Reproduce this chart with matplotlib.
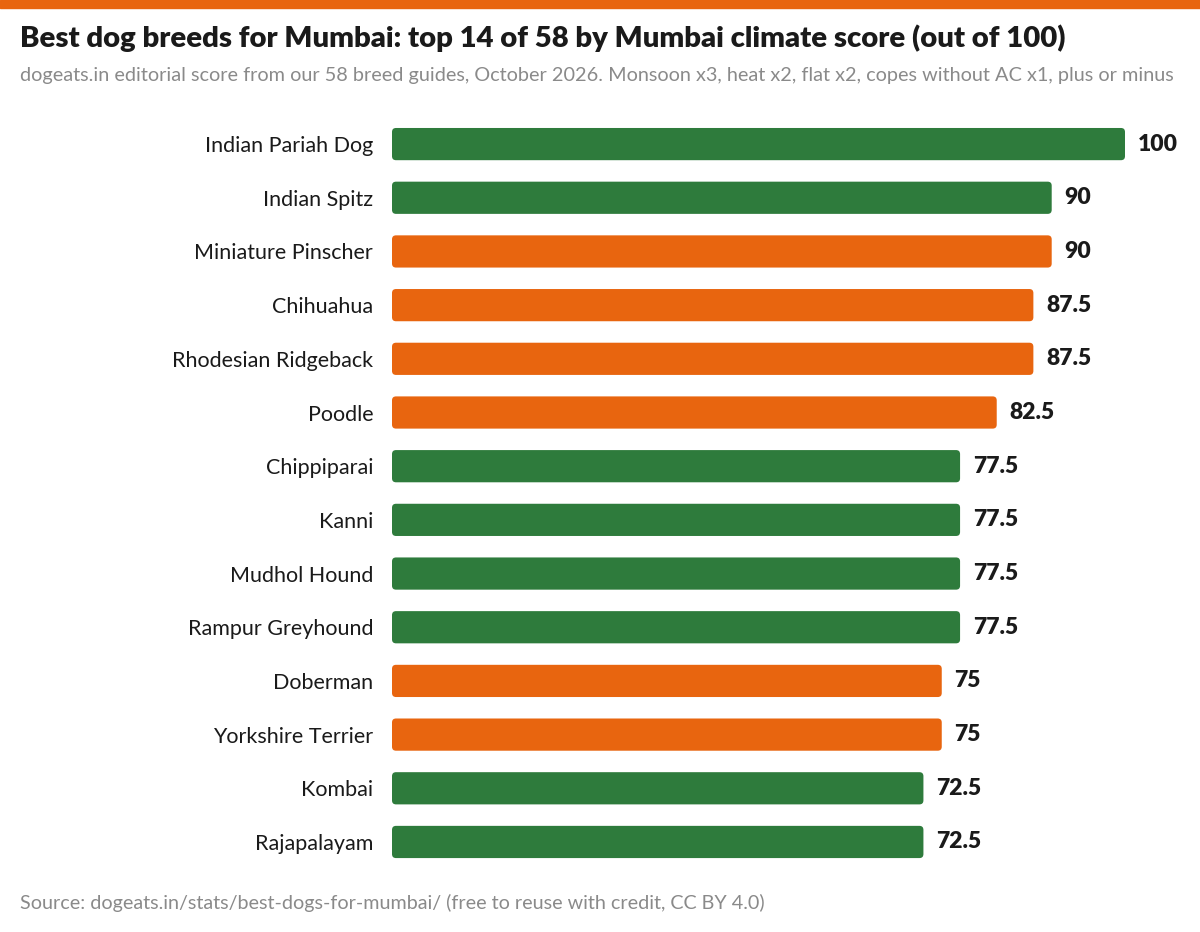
import matplotlib
matplotlib.use('Agg')
import matplotlib.pyplot as plt
from matplotlib.patches import FancyBboxPatch, Rectangle

# Data
breeds = ['Indian Pariah Dog', 'Indian Spitz', 'Miniature Pinscher', 'Chihuahua',
          'Rhodesian Ridgeback', 'Poodle', 'Chippiparai', 'Kanni', 'Mudhol Hound',
          'Rampur Greyhound', 'Doberman', 'Yorkshire Terrier', 'Kombai', 'Rajapalayam']
scores = [100, 90, 90, 87.5, 87.5, 82.5, 77.5, 77.5, 77.5, 77.5, 75, 75, 72.5, 72.5]
indian = [True, True, False, False, False, False, True, True, True, True,
          False, False, True, True]
value_labels = ['100', '90', '90', '87.5', '87.5', '82.5', '77.5', '77.5', '77.5',
                '77.5', '75', '75', '72.5', '72.5']

GREEN = '#2e7b3c'
ORANGE = '#e8650f'
DARK = '#1a1a1a'
GREY = '#8a8a8a'

plt.rcParams['font.family'] = ['Lato', 'DejaVu Sans']

fig = plt.figure(figsize=(12, 9.32), dpi=100)
fig.patches.append(Rectangle((0, 1 - 8 / 932), 1, 8 / 932, transform=fig.transFigure,
                             color=ORANGE, zorder=0))

ax = fig.add_axes([392 / 1200, 0.0678, 733 / 1200, 0.8064])
n = len(breeds)
bar_h = 0.6
# rounding: ~4 px in each direction
rx = 4 / 7.33
ry = 4 / 53.7
for i, (s, ind) in enumerate(zip(scores, indian)):
    p = FancyBboxPatch((0, i - bar_h / 2), s, bar_h,
                       boxstyle='round,pad=0,rounding_size=%f' % rx,
                       mutation_aspect=ry / rx,
                       facecolor=GREEN if ind else ORANGE, edgecolor='none')
    ax.add_patch(p)
    ax.text(s + 1.75, i, value_labels[i], va='center', ha='left', fontsize=16.5,
            fontweight='heavy', color=DARK)

ax.set_xlim(0, 100)
ax.set_ylim(n - 0.5, -0.5)
ax.set_yticks(range(n))
ax.set_yticklabels(breeds, fontsize=15.5, color=DARK)
ax.tick_params(axis='y', length=0, pad=13.5)
ax.set_xticks([])
for sp in ax.spines.values():
    sp.set_visible(False)

fig.text(20 / 1200, 1 - 38 / 932, 'Best dog breeds for Mumbai: top 14 of 58 by Mumbai climate score (out of 100)',
         fontsize=21.1, fontweight='heavy', color=DARK, va='center', ha='left')
fig.text(20 / 1200, 1 - 76 / 932, 'dogeats.in editorial score from our 58 breed guides, October 2026. '
         'Monsoon x3, heat x2, flat x2, copes without AC x1, plus or minus',
         fontsize=14.3, color=GREY, va='center', ha='left')
fig.text(20 / 1200, 1 - 903 / 932, 'Source: dogeats.in/stats/best-dogs-for-mumbai/ (free to reuse with credit, CC BY 4.0)',
         fontsize=14.2, color=GREY, va='center', ha='left')

plt.savefig('out.png', dpi=100)
